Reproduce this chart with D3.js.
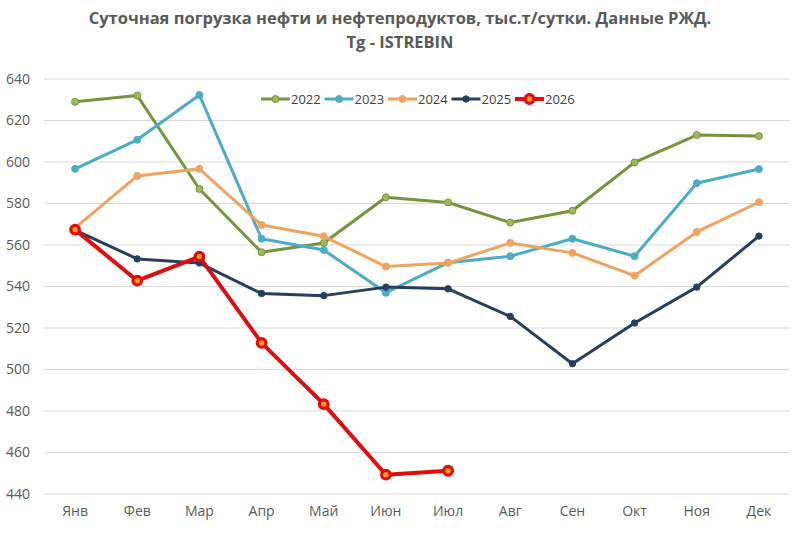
<!DOCTYPE html>
<html>
<head>
    <meta charset="utf-8">
    <script src="https://cdn.jsdelivr.net/npm/d3@7/dist/d3.min.js"></script>
    <style>
        body { margin: 0; background: #fff; }
        text { font-family: "Open Sans", "DejaVu Sans", sans-serif; }
    </style>
</head>
<body>
    <div id="viz"></div>
    <script type="text/javascript">

    // months on the x axis
    var months = ["Янв", "Фев", "Мар", "Апр", "Май", "Июн", "Июл", "Авг", "Сен", "Окт", "Ноя", "Дек"];
    var yTicks = [440, 460, 480, 500, 520, 540, 560, 580, 600, 620, 640];

    // values, thousand t per day
    var v2022 = [629, 632, 587, 556.5, 561, 583, 580.5, 570.8, 576.5, 599.8, 613, 612.5];
    var v2023 = [596.7, 610.7, 632.3, 563, 557.6, 537, 551.5, 554.6, 563, 554.6, 589.8, 596.6];
    var v2024 = [568.3, 593.3, 596.7, 569.6, 564.2, 549.6, 551.3, 561, 556.2, 545.2, 566.3, 580.6];
    var v2025 = [567.2, 553.3, 551.3, 536.6, 535.6, 539.7, 538.9, 525.6, 502.8, 522.4, 539.7, 564.3];
    var v2026 = [567.4, 542.8, 554.4, 512.8, 483.3, 449.3, 451.2];

    var series = [
        { name: "2022", values: v2022, color: "#77933c", width: 3, r: 3.5, fill: "#9bbb59" },
        { name: "2023", values: v2023, color: "#4bacc6", width: 3, r: 3.5, fill: "#4bacc6" },
        { name: "2024", values: v2024, color: "#f0a35e", width: 3, r: 3.5, fill: "#f0a35e" },
        { name: "2025", values: v2025, color: "#243f60", width: 3, r: 3.2, fill: "#243f60" },
        { name: "2026", values: v2026, color: "#e00d0d", width: 4, r: 4.3, fill: "#ff9a20", ring: 3.2 }
    ];

    var W = 800, H = 534;
    // plot area
    var pLeft = 44, pRight = 790, pTop = 79, pBottom = 494;

    var svg = d3.select("#viz").append("svg")
        .attr("width", W)
        .attr("height", H);

    var x = d3.scaleBand().domain(months).range([pLeft, pRight]);
    var y = d3.scaleLinear().domain([440, 640]).range([pBottom, pTop]);

    // gridlines
    svg.append("g").selectAll("line")
        .data(yTicks)
        .enter().append("line")
        .attr("x1", pLeft).attr("x2", pRight)
        .attr("y1", function(d) { return y(d); })
        .attr("y2", function(d) { return y(d); })
        .style("stroke", "#d9d9d9")
        .style("stroke-width", 1);

    // y axis labels
    var yAxis = d3.axisLeft(y).tickValues(yTicks).tickSize(0).tickPadding(0);
    svg.append("g")
        .attr("transform", "translate(30,0)")
        .call(yAxis)
        .call(function(g) { g.select(".domain").remove(); })
        .selectAll("text")
        .style("font-size", "14px")
        .style("fill", "#595959")
        .style("font-family", "'Open Sans', sans-serif");

    // x axis labels
    var xAxis = d3.axisBottom(x).tickSize(0).tickPadding(0);
    svg.append("g")
        .attr("transform", "translate(0," + (pBottom + 12) + ")")
        .call(xAxis)
        .call(function(g) { g.select(".domain").remove(); })
        .selectAll("text")
        .style("font-size", "14px")
        .style("fill", "#595959")
        .style("font-family", "'Open Sans', sans-serif");

    var line = d3.line()
        .x(function(d, i) { return x(months[i]) + x.bandwidth() / 2; })
        .y(function(d) { return y(d); });

    series.forEach(function(s) {
        var g = svg.append("g");
        g.append("path")
            .datum(s.values)
            .attr("d", line)
            .style("fill", "none")
            .style("stroke", s.color)
            .style("stroke-width", s.width)
            .style("stroke-linejoin", "round");
        g.selectAll("circle")
            .data(s.values)
            .enter().append("circle")
            .attr("cx", function(d, i) { return x(months[i]) + x.bandwidth() / 2; })
            .attr("cy", function(d) { return y(d); })
            .attr("r", s.r)
            .style("fill", s.fill)
            .style("stroke", s.color)
            .style("stroke-width", s.ring || 1);
    });

    // legend
    var legend = svg.append("g").attr("transform", "translate(261,99)");
    var item = legend.selectAll("g")
        .data(series)
        .enter().append("g")
        .attr("transform", function(d, i) { return "translate(" + (i * 63.5) + ",0)"; });
    item.append("line")
        .attr("x1", 0).attr("x2", 29)
        .style("stroke", function(d) { return d.color; })
        .style("stroke-width", function(d) { return d.width; });
    item.append("circle")
        .attr("cx", 14.5)
        .attr("r", function(d) { return d.r; })
        .style("fill", function(d) { return d.fill; })
        .style("stroke", function(d) { return d.color; })
        .style("stroke-width", function(d) { return d.ring || 1; });
    item.append("text")
        .attr("x", 30)
        .attr("dy", "0.35em")
        .text(function(d) { return d.name; })
        .style("font-size", "13px")
        .style("fill", "#404040");

    // title
    var title = svg.append("text")
        .attr("text-anchor", "middle")
        .style("font-size", "16.5px")
        .style("font-weight", "bold")
        .style("fill", "#595959");
    title.append("tspan").attr("x", 400).attr("y", 24)
        .text("Суточная погрузка нефти и нефтепродуктов, тыс.т/сутки. Данные РЖД.");
    title.append("tspan").attr("x", 400).attr("y", 48)
        .text("Tg - ISTREBIN");

    </script>
</body>
</html>
